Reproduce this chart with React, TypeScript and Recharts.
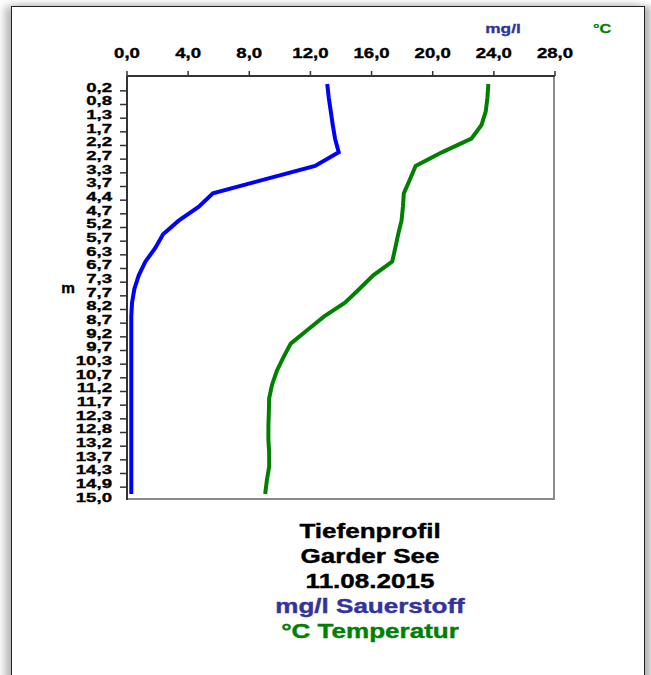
import { LineChart, Line, XAxis, YAxis } from "recharts";

const depths = [
  "0,2", "0,8", "1,3", "1,7", "2,2", "2,7", "3,3", "3,7", "4,4", "4,7",
  "5,2", "5,7", "6,3", "6,7", "7,3", "7,7", "8,2", "8,7", "9,2", "9,7",
  "10,3", "10,7", "11,2", "11,7", "12,3", "12,8", "13,2", "13,7", "14,3", "14,9", "15,0",
];

// mg/l Sauerstoff
const oxygen = [
  13.1, 13.2, 13.33, 13.46, 13.61, 13.85, 12.3, 8.95, 5.62, 4.68,
  3.38, 2.36, 1.85, 1.2, 0.77, 0.48, 0.33, 0.28, 0.28, 0.28,
  0.28, 0.28, 0.28, 0.28, 0.28, 0.28, 0.28, 0.28, 0.28, 0.28, 0.28,
];

// °C Temperatur
const temperature = [
  23.64, 23.58, 23.47, 23.19, 22.53, 20.6, 18.88, 18.5, 18.11, 18.05,
  17.96, 17.74, 17.55, 17.35, 16.11, 15.2, 14.26, 12.9, 11.8, 10.71,
  10.23, 9.8, 9.49, 9.3, 9.28, 9.25, 9.25, 9.3, 9.3, 9.15, 9.04,
];

const valueTicks = [0, 4, 8, 12, 16, 20, 24, 28];

const titleLines = [
  { text: "Tiefenprofil", color: "#000000" },
  { text: "Garder See", color: "#000000" },
  { text: "11.08.2015", color: "#000000" },
  { text: "mg/l Sauerstoff", color: "#333399" },
  { text: "°C Temperatur", color: "#008000" },
];

const data = depths.map((d, i) => ({
  depth: d,
  o2: oxygen[i],
  temp: temperature[i],
}));

const FONT = "'Liberation Sans', Arial, sans-serif";
const PLOT_LEFT = 127;
const PLOT_RIGHT = 555;
const PLOT_TOP = 76;
const PLOT_BOTTOM = 500;
const PAD_TOP = 8;
const PAD_BOTTOM = 6;
const STEP = (PLOT_BOTTOM - PLOT_TOP - PAD_TOP - PAD_BOTTOM) / (depths.length - 1);

function TopTick(props: any) {
  const { x, payload } = props;
  return (
    <g>
      <line x1={x} x2={x} y1={PLOT_TOP} y2={PLOT_TOP - 5} stroke="#333" strokeWidth={1.5} />
      <g transform={`translate(${x},58) scale(1.33,1)`}>
        <text x={0} y={0} textAnchor="middle" fontFamily={FONT} fontWeight="bold" fontSize={14} fill="#000" stroke="#000" strokeWidth={0.35}>
          {payload.value.toFixed(1).replace(".", ",")}
        </text>
      </g>
    </g>
  );
}

function DepthTick(props: any) {
  const { y, payload, index } = props;
  return (
    <g>
      {index < depths.length - 1 && (
        <line x1={120} x2={PLOT_LEFT} y1={y + STEP / 2} y2={y + STEP / 2} stroke="#333" strokeWidth={1.5} />
      )}
      <g transform={`translate(112,${y + 7.5}) scale(1.4,1)`}>
        <text x={0} y={0} textAnchor="end" fontFamily={FONT} fontWeight="bold" fontSize={13.3} fill="#000" stroke="#000" strokeWidth={0.35}>
          {payload.value}
        </text>
      </g>
    </g>
  );
}

export default function App() {
  return (
    <div style={{ position: "fixed", left: 0, top: 0, width: 651, height: 675, background: "#fff", overflow: "hidden" }}>
      <div
        style={{
          position: "absolute",
          left: 11,
          top: 6,
          width: 632,
          height: 720,
          border: "1.5px solid #222",
          boxShadow: "-6px 0 8px #b8b8b8, 6px 0 6px #b8b8b8",
          background: "#fff",
        }}
      />
      {/* plot frame (right and bottom edges) */}
      <div
        style={{
          position: "absolute",
          left: PLOT_LEFT,
          top: PLOT_TOP,
          width: PLOT_RIGHT - PLOT_LEFT - 2,
          height: PLOT_BOTTOM - PLOT_TOP - 2,
          borderRight: "2px solid #8a8a8a",
          borderBottom: "2px solid #8a8a8a",
        }}
      />
      <div style={{ position: "absolute", left: 0, top: 0 }}>
        <LineChart
          width={651}
          height={675}
          data={data}
          layout="vertical"
          margin={{ top: PLOT_TOP - 40, right: 651 - PLOT_RIGHT, bottom: 675 - PLOT_BOTTOM, left: 0 }}
        >
          <XAxis
            type="number"
            orientation="top"
            domain={[0, 28]}
            ticks={valueTicks}
            height={40}
            tick={<TopTick />}
            tickLine={false}
            axisLine={{ stroke: "#333", strokeWidth: 2 }}
          />
          <YAxis
            type="category"
            dataKey="depth"
            width={PLOT_LEFT}
            interval={0}
            padding={{ top: PAD_TOP, bottom: PAD_BOTTOM }}
            tick={<DepthTick />}
            tickLine={false}
            axisLine={{ stroke: "#333", strokeWidth: 2 }}
          />
          <Line
            dataKey="o2"
            stroke="#0000ff"
            strokeWidth={4}
            dot={false}
            isAnimationActive={false}
          />
          <Line
            dataKey="temp"
            stroke="#008000"
            strokeWidth={4}
            dot={false}
            isAnimationActive={false}
          />
        </LineChart>
      </div>
      <svg width={651} height={675} style={{ position: "absolute", left: 0, top: 0, pointerEvents: "none" }}>
        <g transform="translate(503,33) scale(1.33,1)">
          <text textAnchor="middle" fontFamily={FONT} fontWeight="bold" fontSize={13} fill="#333399" stroke="#333399" strokeWidth={0.3}>mg/l</text>
        </g>
        <g transform="translate(602,33) scale(1.25,1)">
          <text textAnchor="middle" fontFamily={FONT} fontWeight="bold" fontSize={13} fill="#008000" stroke="#008000" strokeWidth={0.3}>°C</text>
        </g>
        <g transform="translate(68,293) scale(1.1,1)">
          <text textAnchor="middle" fontFamily={FONT} fontWeight="bold" fontSize={14} fill="#000" stroke="#000" strokeWidth={0.35}>m</text>
        </g>
        {titleLines.map((l, i) => (
          <g key={l.text} transform={`translate(370,${538 + i * 25}) scale(1.27,1)`}>
            <text textAnchor="middle" fontFamily={FONT} fontWeight="bold" fontSize={20.5} fill={l.color} stroke={l.color} strokeWidth={0.4}>
              {l.text}
            </text>
          </g>
        ))}
      </svg>
    </div>
  );
}
